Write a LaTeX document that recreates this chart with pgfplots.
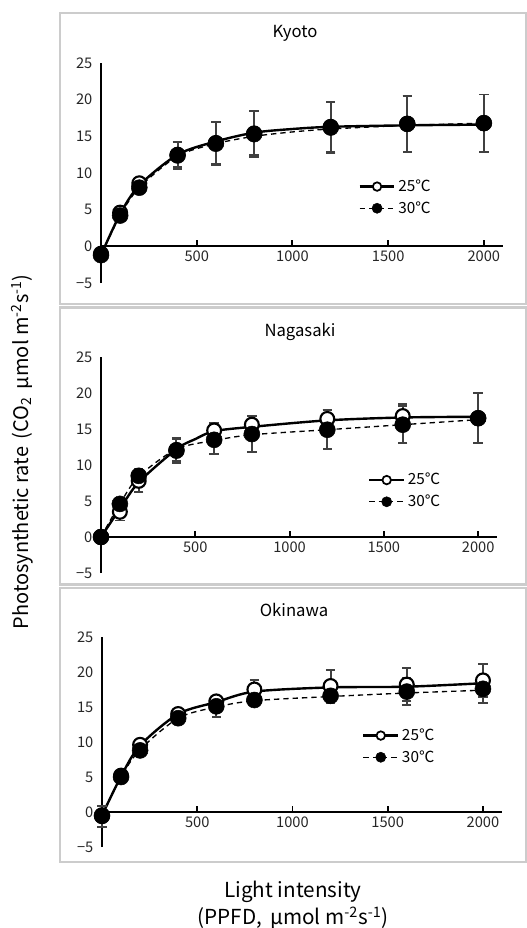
\documentclass[border=0pt]{standalone}
\usepackage{fontspec}
\setmainfont{Noto Sans CJK JP}
\usepackage{pgfplots}
\pgfplotsset{compat=1.18}

\pgfplotsset{
  panel/.style={
    scale only axis, clip=false,
    xmin=0, xmax=2100, ymin=-5, ymax=25,
    axis x line*=middle, axis y line*=left,
    axis line style={line width=1.7pt, black},
    tick align=inside, major tick length=4.5pt,
    xtick={0,500,1000,1500,2000}, xticklabels={0,500,1000,1500,2000},
    ytick={-5,0,5,10,15,20,25}, yticklabels={−5,0,5,10,15,20,25},
    xtick style={line width=1.4pt, black},
    ytick style={draw=none},
    tick label style={font=\fontsize{11}{12}\selectfont, text=black!85},
    yticklabel style={xshift=-3pt},
    legend cell align=left,
    legend style={draw=none, fill=none, font=\fontsize{11.5}{13}\selectfont,
      row sep=2pt, inner sep=0pt, anchor=west},
  },
  fit25/.style={line width=1.8pt, black, smooth, tension=0.5, no marks, forget plot},
  fit30/.style={line width=1pt, black, dash pattern=on 4pt off 3pt, smooth, tension=0.5, no marks, forget plot},
  pt25/.style={only marks, forget plot, mark=*, mark size=5.2pt,
    mark options={fill=white, draw=black, line width=1.6pt},
    error bars/.cd, y dir=both, y explicit,
    error bar style={line width=1.4pt, black!75},
    error mark options={rotate=90, mark size=3.5pt, line width=1.4pt, black!75}},
  pt30/.style={only marks, forget plot, mark=*, mark size=6pt,
    mark options={fill=black, draw=black},
    error bars/.cd, y dir=both, y explicit,
    error bar style={line width=1.4pt, black!75},
    error mark options={rotate=90, mark size=3.5pt, line width=1.4pt, black!75}},
}

\newcommand{\legends}{%
  \addlegendimage{legend image code/.code={%
    \draw[line width=1.8pt] (0pt,0pt)--(26pt,0pt);
    \draw[fill=white, line width=1.3pt] (13pt,0pt) circle (3.2pt);}}
  \addlegendentry{25℃}
  \addlegendimage{legend image code/.code={%
    \draw[line width=1pt, dash pattern=on 4pt off 3pt] (0pt,0pt)--(26pt,0pt);
    \fill (13pt,0pt) circle (3.8pt);}}
  \addlegendentry{30℃}
}

\begin{document}
\begin{tikzpicture}
\useasboundingbox (0,0) rectangle (395.25pt,-696pt);

% panel frames
\draw[gray!40, line width=2.2pt] (45pt,-9.75pt) rectangle (394.5pt,-228pt);
\draw[gray!40, line width=2.2pt] (45pt,-230.5pt) rectangle (394.5pt,-438.5pt);
\draw[gray!40, line width=2.2pt] (45pt,-441pt) rectangle (394.5pt,-646.5pt);

% ---------- Kyoto ----------
\begin{axis}[panel, at={(75.75pt,-212.25pt)}, anchor=south west,
  width=301.5pt, height=165pt,
  legend style={at={(0.64,0.389)}}]
\addplot[fit30] coordinates {(0,-1.2) (100,4.2) (200,8.0) (400,12.3) (600,14.0) (800,15.0) (1000,15.6) (1200,16.0) (1600,16.5) (2000,16.8)};
\addplot[fit25] coordinates {(0,-1.2) (100,4.4) (200,8.3) (400,12.5) (600,14.3) (800,15.5) (1000,16.0) (1200,16.3) (1600,16.5) (2000,16.6)};
\addplot[pt25] coordinates {(0,-1.0) +- (0,0.3) (100,4.6) +- (0,0.5) (200,8.6) +- (0,0.5) (400,12.5) +- (0,1.7) (600,14.1) +- (0,2.8) (800,15.4) +- (0,3.0) (1200,16.3) +- (0,3.4) (1600,16.7) +- (0,3.8) (2000,16.8) +- (0,3.9)};
\addplot[pt30] coordinates {(0,-1.2) +- (0,0.3) (100,4.2) +- (0,0.6) (200,8.0) +- (0,0.6) (400,12.4) +- (0,1.8) (600,14.0) +- (0,2.9) (800,15.3) +- (0,3.1) (1200,16.2) +- (0,3.5) (1600,16.7) +- (0,3.8) (2000,16.8) +- (0,3.9)};
\legends
\end{axis}

% ---------- Nagasaki ----------
\begin{axis}[panel, at={(75.75pt,-429.75pt)}, anchor=south west,
  width=297pt, height=162pt,
  legend style={at={(0.674,0.38)}}]
\addplot[fit30] coordinates {(0,0) (100,4.6) (200,8.4) (400,12.2) (600,13.4) (800,14.2) (1200,14.9) (1600,15.6) (2000,16.3)};
\addplot[fit25] coordinates {(0,0) (100,3.9) (200,7.6) (400,12.2) (500,13.6) (600,14.7) (800,15.3) (1200,16.2) (1600,16.6) (2000,16.7)};
\addplot[pt25] coordinates {(0,0) +- (0,0.3) (100,3.5) +- (0,1.2) (200,7.8) +- (0,1.5) (400,12.1) +- (0,1.5) (600,14.8) +- (0,1.0) (800,15.6) +- (0,1.2) (1200,16.4) +- (0,1.3) (1600,16.8) +- (0,1.7) (2000,16.5) +- (0,3.5)};
\addplot[pt30] coordinates {(0,0) +- (0,0.3) (100,4.6) +- (0,0.8) (200,8.5) +- (0,1.0) (400,12.0) +- (0,1.7) (600,13.5) +- (0,2.0) (800,14.3) +- (0,2.5) (1200,14.9) +- (0,2.7) (1600,15.6) +- (0,2.6) (2000,16.5) +- (0,3.5)};
\legends
\end{axis}

% ---------- Okinawa ----------
\begin{axis}[panel, at={(76.5pt,-635.25pt)}, anchor=south west,
  width=300pt, height=157.5pt,
  legend style={at={(0.65,0.479)}}]
\addplot[fit30] coordinates {(0,-0.5) (100,5.0) (200,8.9) (400,13.4) (600,15.0) (800,15.9) (1200,16.5) (1600,17.0) (2000,17.4)};
\addplot[fit25] coordinates {(0,-0.5) (100,5.1) (200,9.5) (400,14.0) (600,15.7) (800,17.2) (1200,17.8) (1600,17.9) (2000,18.4)};
\addplot[pt25] coordinates {(0,-0.6) +- (0,1.5) (100,5.2) +- (0,0.5) (200,9.6) +- (0,0.6) (400,14.0) +- (0,0.6) (600,15.8) +- (0,0.7) (800,17.5) +- (0,1.3) (1200,18.0) +- (0,2.3) (1600,18.2) +- (0,2.4) (2000,18.8) +- (0,2.4)};
\addplot[pt30] coordinates {(0,-0.5) +- (0,0.5) (100,5.0) +- (0,0.5) (200,8.8) +- (0,0.6) (400,13.4) +- (0,0.8) (600,15.1) +- (0,1.5) (800,16.0) +- (0,0.8) (1200,16.6) +- (0,1.1) (1600,17.2) +- (0,1.9) (2000,17.6) +- (0,2.0)};
\legends
\end{axis}

% titles and axis labels
\node[font=\fontsize{12.5}{14}\selectfont] at (221.25pt,-24.75pt) {Kyoto};
\node[font=\fontsize{12.5}{14}\selectfont] at (225pt,-249pt) {Nagasaki};
\node[font=\fontsize{12.5}{14}\selectfont] at (220.5pt,-457.5pt) {Okinawa};
\node[font=\fontsize{15.5}{17}\selectfont] at (219.75pt,-669pt) {Light intensity};
\node[font=\fontsize{15.5}{17}\selectfont] at (219.75pt,-688pt) {(PPFD, \,μmol m\textsuperscript{-2}s\textsuperscript{-1})};
\node[rotate=90, font=\fontsize{15}{17}\selectfont] at (16.5pt,-339pt) {Photosynthetic rate \,(CO\textsubscript{2} \,μmol m\textsuperscript{-2}s\textsuperscript{-1})};
\end{tikzpicture}
\end{document}
